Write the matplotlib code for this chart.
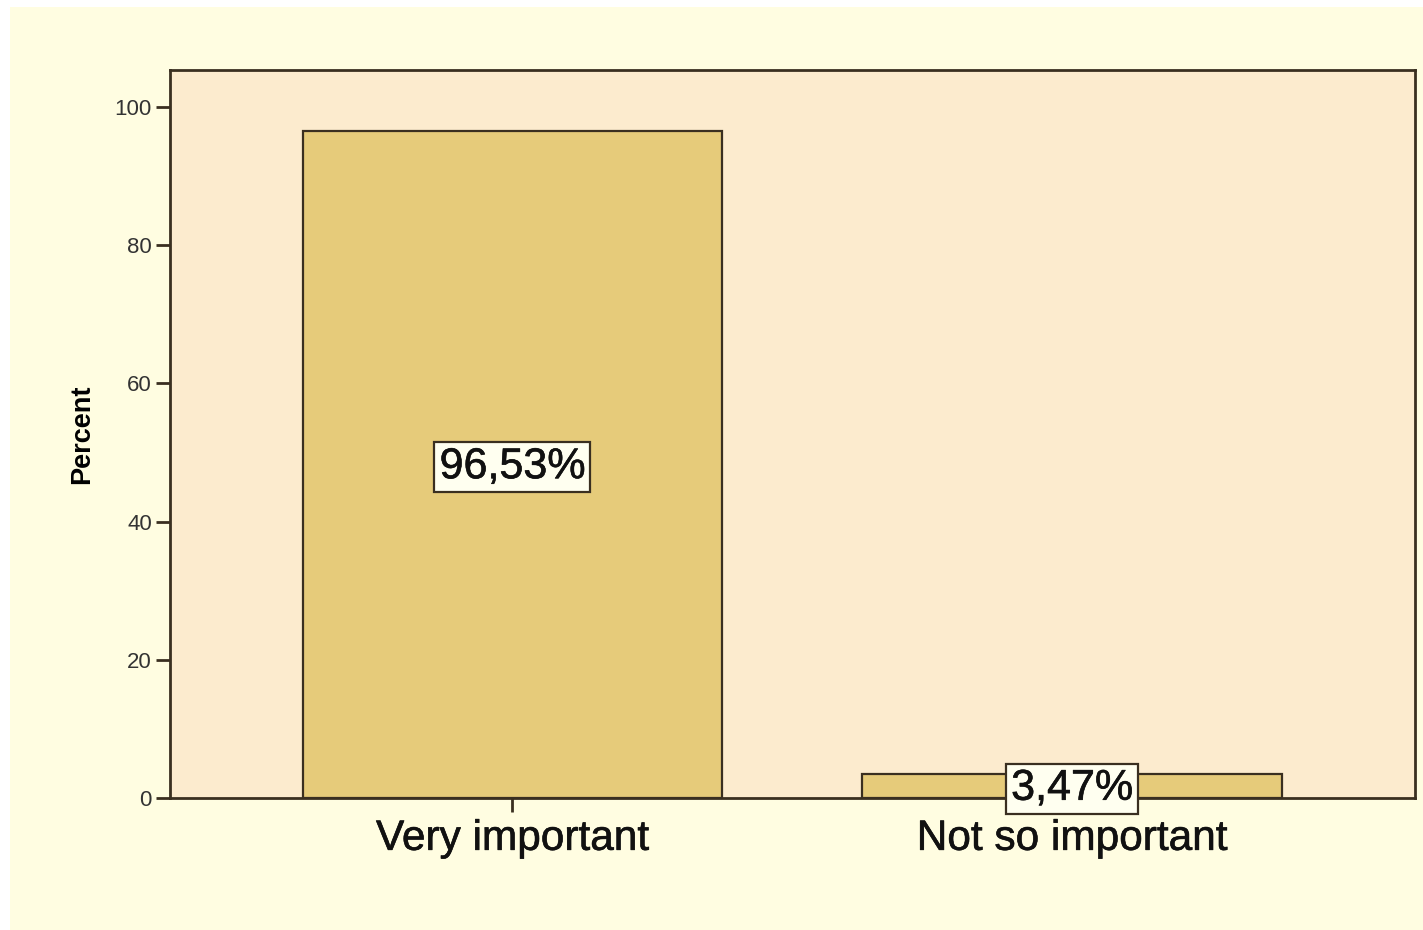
import matplotlib.pyplot as plt
from matplotlib.patches import Rectangle
import matplotlib.patheffects as pe

categories = ["Very important", "Not so important"]
percents = [96.53, 3.47]
value_labels = ["96,53%", "3,47%"]
yticks = [0, 20, 40, 60, 80, 100]

plt.rcParams['font.family'] = ['Liberation Sans', 'DejaVu Sans']

fig = plt.figure(figsize=(14.23, 9.30), dpi=100, facecolor="white")
W, H = 1423, 930
# light yellow chart background with a thin white margin left/top
fig.patches.append(Rectangle((10 / W, 0), 1 - 10 / W, 1 - 7 / H,
                             transform=fig.transFigure, facecolor="#FFFDE1",
                             edgecolor="none", zorder=-10))

ax = fig.add_axes([170 / W, 1 - 798 / H, (1415 - 170) / W, (798 - 70) / H])
ax.set_zorder(1)
ax.set_facecolor("#FCEBCE")

edge = "#3A2F20"
heavy = [pe.withStroke(linewidth=0.45, foreground="#111111")]
x = list(range(len(categories)))
bars = ax.bar(x, percents, width=0.749, color="#E6CB7A", edgecolor=edge,
              linewidth=1.6, zorder=2)

for xi, p, lab in zip(x, percents, value_labels):
    ax.text(xi, p / 2 - 0.4, lab, ha="center", va="center", fontsize=31,
            color="#111111", zorder=5, path_effects=heavy,
            bbox=dict(boxstyle="square,pad=0.12", facecolor="#FFFFF0",
                      edgecolor=edge, linewidth=1.6))

ax.set_xlim(-0.612, 1.613)
ax.set_ylim(0, 105.35)
ax.set_yticks(yticks)
ax.set_yticklabels([str(t) for t in yticks], fontsize=16, color="#333333")
ax.set_xticks(x)
ax.set_xticklabels(categories, fontsize=30.5, color="#111111")
for t in ax.get_xticklabels():
    t.set_path_effects(heavy)
ax.tick_params(axis="y", length=10, width=2, color=edge, pad=3)
ax.tick_params(axis="x", length=10, width=2, color=edge, pad=5)

for s in ax.spines.values():
    s.set_color(edge)
    s.set_linewidth(2)

ax.set_ylabel("Percent", fontsize=19.5, fontweight="bold", labelpad=14)

fig.savefig("out.png", dpi=100, facecolor=fig.get_facecolor())
